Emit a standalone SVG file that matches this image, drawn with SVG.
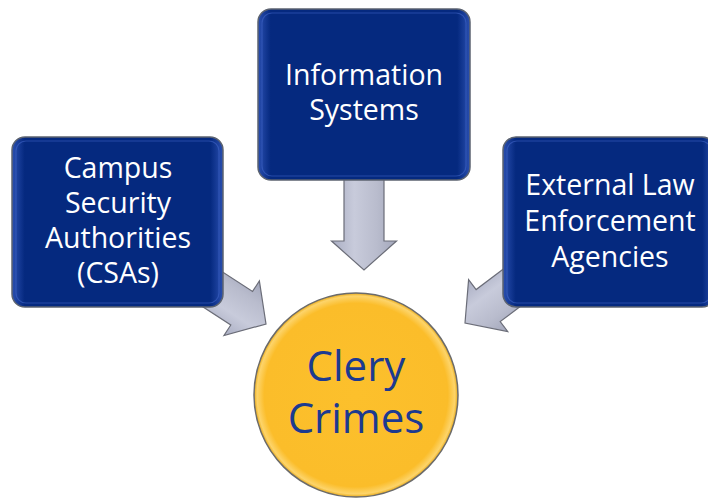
<svg xmlns="http://www.w3.org/2000/svg" width="708" height="503" viewBox="0 0 708 503">
<defs>
<linearGradient id="boxGrad" x1="0" y1="0" x2="1" y2="0">
<stop offset="0" stop-color="#2a4fb0"/>
<stop offset="0.06" stop-color="#05297f"/>
<stop offset="0.94" stop-color="#05297f"/>
<stop offset="1" stop-color="#2a4fb0"/>
</linearGradient>
<linearGradient id="arrowGrad" x1="0" y1="0" x2="1" y2="0">
<stop offset="0" stop-color="#a9adc2"/>
<stop offset="0.35" stop-color="#c8cbdb"/>
<stop offset="0.7" stop-color="#b9bccd"/>
<stop offset="1" stop-color="#a3a7bb"/>
</linearGradient>
<radialGradient id="circGrad" cx="0.5" cy="0.5" r="0.5">
<stop offset="0" stop-color="#fcc02c"/>
<stop offset="0.9" stop-color="#fbbd2a"/>
<stop offset="0.97" stop-color="#fdd46a"/>
<stop offset="1" stop-color="#e8a917"/>
</radialGradient>
<path id="arrow" d="M -20 -95 L 20 -95 L 20 -29 L 32.5 -29 L 0 0 L -32.5 -29 L -20 -29 Z"/>
</defs>
<style>
.box { fill: url(#boxGrad); stroke: #5c6370; stroke-width: 1.5; }
.boxhl { fill: none; stroke: #3e63c4; stroke-width: 1.2; opacity: 0.6; }
.lbl { font-family: "Open Sans", "Liberation Sans", sans-serif; font-size: 28.5px; fill: #ffffff; text-anchor: middle; }
.arr { fill: url(#arrowGrad); stroke: #6b6d78; stroke-width: 1.2; stroke-linejoin: miter; }
.big { font-family: "Open Sans", "Liberation Sans", sans-serif; font-size: 42px; fill: #1c3a90; text-anchor: middle; }
</style>
<rect width="708" height="503" fill="#ffffff"/>
<g id="connectors">
<use href="#arrow" class="arr" transform="translate(364 270)"/>
<use href="#arrow" class="arr" transform="translate(266 324) rotate(-57)"/>
<use href="#arrow" class="arr" transform="translate(465 323) rotate(53)"/>
</g>
<g id="node-info">
<rect class="box" x="258" y="9" width="212" height="171" rx="13"/>
<rect class="boxhl" x="262" y="13" width="204" height="163" rx="10"/>
<text class="lbl" x="364" y="85">Information</text>
<text class="lbl" x="364" y="120">Systems</text>
</g>
<g id="node-csa">
<rect class="box" x="12" y="137" width="211" height="170" rx="13"/>
<rect class="boxhl" x="16" y="141" width="203" height="162" rx="10"/>
<text class="lbl" x="118" y="178">Campus</text>
<text class="lbl" x="118" y="213">Security</text>
<text class="lbl" x="118" y="248">Authorities</text>
<text class="lbl" x="118" y="283">(CSAs)</text>
</g>
<g id="node-elea">
<rect class="box" x="503" y="137" width="212" height="170" rx="13"/>
<rect class="boxhl" x="507" y="141" width="204" height="162" rx="10"/>
<text class="lbl" x="610" y="195">External Law</text>
<text class="lbl" x="610" y="231">Enforcement</text>
<text class="lbl" x="610" y="267">Agencies</text>
</g>
<g id="node-clery">
<circle cx="356" cy="395" r="102" fill="url(#circGrad)" stroke="#6b6b6b" stroke-width="1.5"/>
<text class="big" x="356" y="381">Clery</text>
<text class="big" x="356" y="433">Crimes</text>
</g>
</svg>
